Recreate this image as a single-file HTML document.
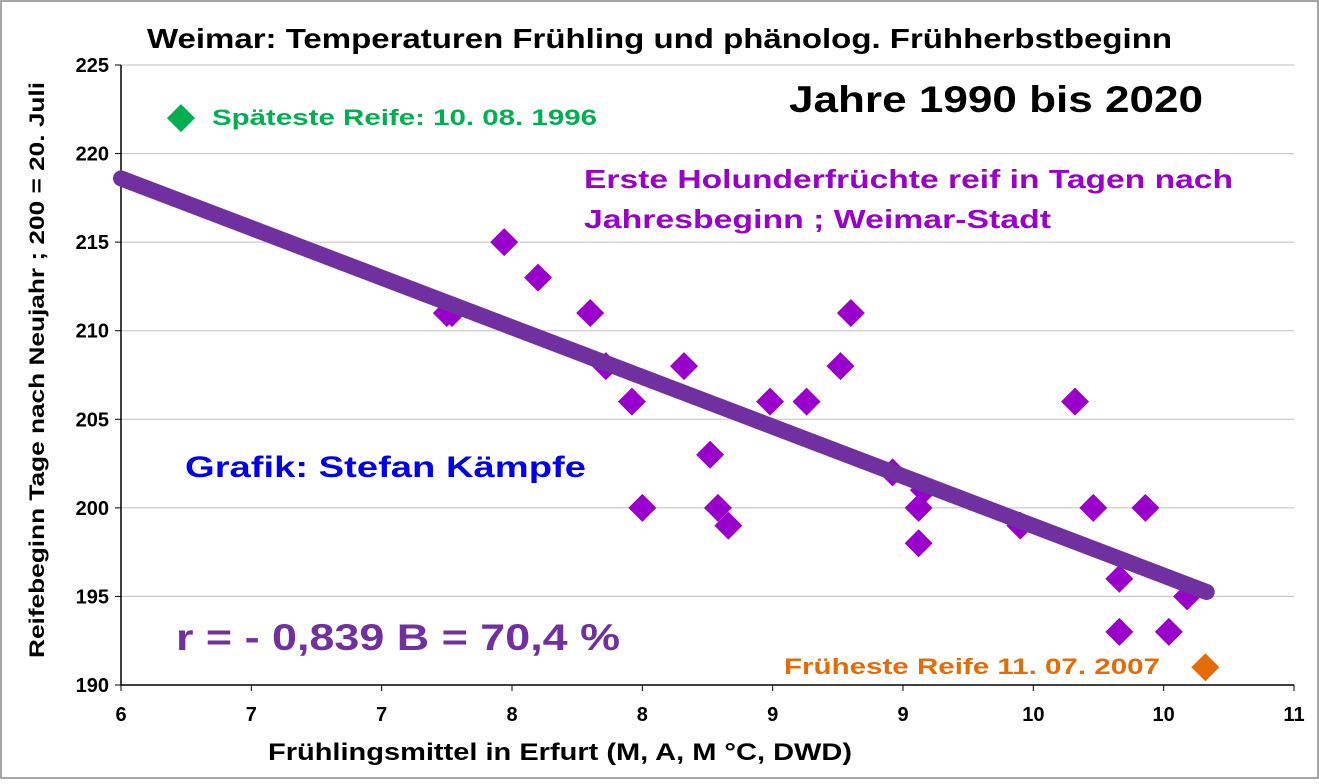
<!DOCTYPE html>
<html><head><meta charset="utf-8"><style>
html,body{margin:0;padding:0;background:#fff}
svg text{font-family:"Liberation Sans",Arial,sans-serif;font-weight:bold}
</style></head><body>
<svg id="chart" width="1319" height="779" viewBox="0 0 1319 779">
<rect x="1" y="1" width="1317" height="777" fill="#fff" stroke="#888" stroke-width="1.5"/>
<text x="147" y="48" textLength="1025" lengthAdjust="spacingAndGlyphs" font-size="28">Weimar: Temperaturen Frühling und phänolog. Frühherbstbeginn</text>
<g id="grid"></g>
<g id="axes"></g>
<g id="marks"></g>
<text x="789" y="112" textLength="414" lengthAdjust="spacingAndGlyphs" font-size="37">Jahre 1990 bis 2020</text>
<text x="584" y="188" textLength="649" lengthAdjust="spacingAndGlyphs" font-size="26" fill="#9900CC">Erste Holunderfrüchte reif in Tagen nach</text>
<text x="584" y="228" textLength="467" lengthAdjust="spacingAndGlyphs" font-size="26" fill="#9900CC">Jahresbeginn ;  Weimar-Stadt</text>
<text x="185" y="477" textLength="401" lengthAdjust="spacingAndGlyphs" font-size="30" fill="#0000EE">Grafik: Stefan Kämpfe</text>
<text x="176" y="650" textLength="444" lengthAdjust="spacingAndGlyphs" font-size="37" fill="#7030A0">r = - 0,839  B = 70,4 %</text>
<text x="212" y="125" textLength="385" lengthAdjust="spacingAndGlyphs" font-size="22" fill="#00B050">Späteste Reife: 10. 08. 1996</text>
<text x="784" y="674" textLength="376" lengthAdjust="spacingAndGlyphs" font-size="22" fill="#E36C09">Früheste Reife 11. 07. 2007</text>
<text x="268" y="760" textLength="584" lengthAdjust="spacingAndGlyphs" font-size="24">Frühlingsmittel in Erfurt (M, A, M °C, DWD)</text>
<text transform="translate(44,658) rotate(-90)" textLength="576" lengthAdjust="spacingAndGlyphs" font-size="21">Reifebeginn Tage nach Neujahr ; 200 = 20. Juli</text>
</svg>
<script>
const xTicks=[6,6.5,7,7.5,8,8.5,9,9.5,10,10.5];
const xTickLabels=["6","7","7","8","8","9","9","10","10","11"];
const yTicks=[190,195,200,205,210,215,220,225];
const temps=[7.25,7.27,7.47,7.60,7.80,7.86,7.96,8.00,8.16,8.26,8.29,8.33,8.49,8.63,8.76,8.80,8.96,9.06,9.06,9.08,9.45,9.66,9.73,9.83,9.83,9.93,10.02,10.09];
const days=[211,211,215,213,211,208,206,200,208,203,200,199,206,206,208,211,202,200,198,201,199,206,200,196,193,200,193,195];
const latest=[6.23,222];
const earliest=[10.16,191];
const trendX=[6,10.165];
const trendY=[218.6,195.25];
const L=121,R=1294,T=65,B=685;
const X=v=>L+(v-6)*(R-L)/4.5, Y=v=>B-(v-190)*(B-T)/35;
const NS="http://www.w3.org/2000/svg";
function mk(tag,attrs,parent){const e=document.createElementNS(NS,tag);for(const k in attrs)e.setAttribute(k,attrs[k]);document.getElementById(parent).appendChild(e);return e;}
yTicks.forEach((t,i)=>{
 if(t>190){const g=mk('line',{x1:L,x2:R,y1:Y(t),y2:Y(t),stroke:'#c0c0c0','stroke-width':1},'grid');
 
 }
 const tk=mk('line',{x1:L-6,x2:L,y1:Y(t),y2:Y(t),stroke:'#000'},'axes');
 
 
 const lb=mk('text',{x:L-12,y:Y(t)+7,'text-anchor':'end','font-size':20},'axes');lb.textContent=t;
 
 
});
xTicks.concat([11]).forEach((t,i)=>{
 const tk=mk('line',{x1:X(t),x2:X(t),y1:B,y2:B+6,stroke:'#000'},'axes');
 
 
});
xTicks.forEach((t,i)=>{
 const lb=mk('text',{x:L+i*(R-L)/9,y:B+36,'text-anchor':'middle','font-size':20},'axes');
 lb.textContent=xTickLabels[i];
 
 
});
const ax=mk('path',{d:`M${L},${T} V${B} H${R}`,fill:'none',stroke:'#000','stroke-width':1.5},'axes');


function dia(x,y,c,name){const s=14;const p=mk('path',{d:`M${X(x)},${Y(y)-s} L${X(x)+s},${Y(y)} L${X(x)},${Y(y)+s} L${X(x)-s},${Y(y)} Z`,fill:c},'marks');
 
 }
temps.forEach((t,i)=>dia(t,days[i],'#9900CC','data-point'));
const tl=mk('line',{x1:X(trendX[0]),y1:Y(trendY[0]),x2:X(trendX[1]),y2:Y(trendY[1]),stroke:'#7030A0','stroke-width':16,'stroke-linecap':'round'},'marks');


dia(latest[0],latest[1],'#00B050','latest-point');
dia(earliest[0],earliest[1],'#E36C09','earliest-point');
</script>
</body></html>
